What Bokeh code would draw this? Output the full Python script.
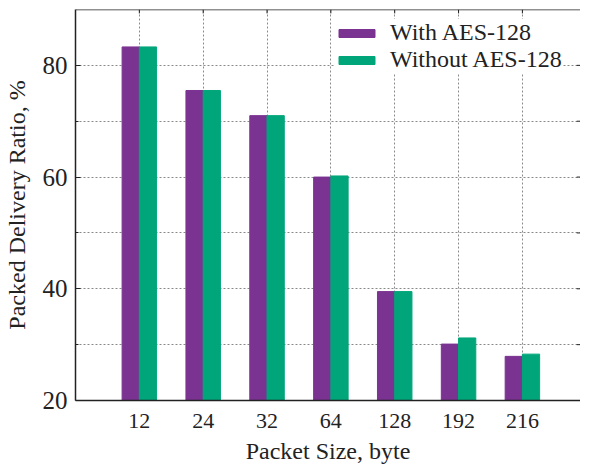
import numpy as np
from bokeh.plotting import figure
from bokeh.models import Range1d, FixedTicker, Span
from bokeh.embed import file_html
from bokeh.resources import INLINE

categories = ["12", "24", "32", "64", "128", "192", "216"]
with_aes = [83.3, 75.5, 71.0, 60.0, 39.5, 30.1, 27.9]
without_aes = [83.3, 75.5, 71.0, 60.2, 39.5, 31.2, 28.3]
y_major = [20, 40, 60, 80]
y_minor = [30, 50, 70]
y_grid = [30, 40, 50, 60, 70, 80]
Y_START, Y_END = 20, 90
X_END = 7.91

FONT = "Liberation Serif"
PURPLE = "#7B3391"
GREEN = "#00A67A"
DARK = "#222222"

xs = np.arange(1, len(categories) + 1)

p = figure(width=580, height=471, x_range=Range1d(0, X_END), y_range=Range1d(Y_START, Y_END),
           output_backend="svg", toolbar_location=None,
           min_border_left=62, min_border_right=0, min_border_top=9, min_border_bottom=71)
p.outline_line_color = None
p.background_fill_color = "white"
p.border_fill_color = "white"

p.vbar(x=xs - 0.135, top=with_aes, bottom=Y_START, width=0.27, fill_color=PURPLE,
       line_color=PURPLE, legend_label="With AES-128")
p.vbar(x=xs + 0.135, top=without_aes, bottom=Y_START, width=0.27, fill_color=GREEN,
       line_color=GREEN, legend_label="Without AES-128")

# axes
xa = p.xaxis[0]
xa.ticker = FixedTicker(ticks=list(xs))
xa.major_label_overrides = {int(i): c for i, c in zip(xs, categories)}
xa.axis_label = "Packet Size, byte"
ya = p.yaxis[0]
ya.ticker = FixedTicker(ticks=y_major, minor_ticks=y_minor)
ya.axis_label = "Packed Delivery Ratio, %"

for ax in (xa, ya):
    ax.axis_line_color = DARK
    ax.axis_line_width = 1.5
    ax.major_label_text_font = FONT
    ax.major_label_text_color = DARK
    ax.axis_label_text_font = FONT
    ax.axis_label_text_font_size = "24px"
    ax.axis_label_text_font_style = "normal"
    ax.axis_label_text_color = DARK
xa.major_tick_line_color = None
xa.minor_tick_line_color = None
xa.major_tick_out = 0
xa.major_tick_in = 0
xa.major_label_text_font_size = "22px"
xa.major_label_standoff = 13
xa.axis_label_standoff = 7
ya.major_label_text_font_size = "25px"
ya.major_tick_in = 5
ya.major_tick_out = 0
ya.minor_tick_in = 3
ya.minor_tick_out = 0
ya.major_tick_line_color = DARK
ya.minor_tick_line_color = DARK
ya.major_label_standoff = 8
ya.axis_label_standoff = 10

# top frame line and inward ticks on top / right
p.add_layout(Span(location=Y_END, dimension="width", line_color=DARK, line_width=1.5))
p.segment(x0=xs, x1=xs, y0=[Y_END] * len(xs), y1=[Y_END - 0.7] * len(xs),
          line_color=DARK, line_width=1)
ry = y_major + y_minor
p.segment(x0=[X_END] * len(ry), x1=[X_END - 0.06] * len(ry), y0=ry, y1=ry,
          line_color=DARK, line_width=1)

# grids
p.xgrid.ticker = FixedTicker(ticks=list(xs))
p.ygrid.ticker = FixedTicker(ticks=y_grid)
for g in (p.xgrid, p.ygrid):
    g.grid_line_color = "#8a8a8a"
    g.grid_line_dash = "2 2"
    g.grid_line_width = 1

# legend
lg = p.legend[0]
lg.location = (259, 327)
lg.border_line_color = None
lg.background_fill_color = "white"
lg.background_fill_alpha = 1
lg.label_text_font = FONT
lg.label_text_font_size = "24px"
lg.label_text_color = DARK
lg.glyph_width = 45
lg.glyph_height = 10
lg.label_height = 22
lg.spacing = -1
lg.padding = 8
lg.margin = 0
lg.label_standoff = 11

open("out.html", "w").write(file_html(p, INLINE))
